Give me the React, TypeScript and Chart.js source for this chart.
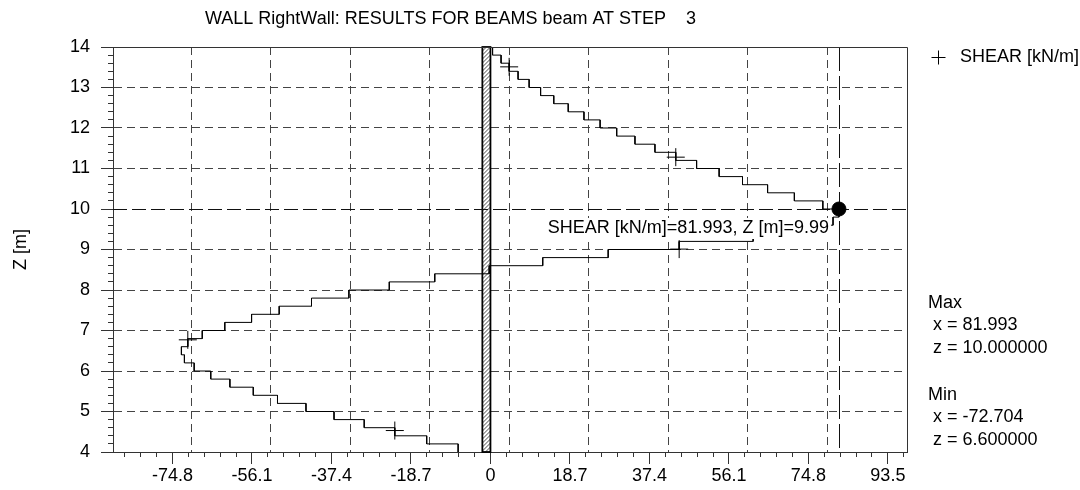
import React, { useEffect, useRef } from 'react';
import { Chart, registerables } from 'chart.js';

Chart.register(...registerables);

const FONT = '"Liberation Sans", Arial, Helvetica, sans-serif';
const FONT_SIZE = 18;

const CHART_TITLE = 'WALL RightWall: RESULTS FOR BEAMS beam AT STEP    3';
const SERIES_NAME = 'SHEAR [kN/m]';
const Y_AXIS_TITLE = 'Z [m]';
const POINT_LABEL = 'SHEAR [kN/m]=81.993, Z [m]=9.99';
const MAX_LINES = ['Max', ' x = 81.993', ' z = 10.000000'];
const MIN_LINES = ['Min', ' x = -72.704', ' z = 6.600000'];

// element boundaries (m) and constant shear per element (kN/m)
const Z_BOUNDS = [14.0, 13.8, 13.6, 13.4, 13.2, 13.0, 12.8, 12.6, 12.4, 12.2, 12.0, 11.8, 11.6, 11.4, 11.2, 11.0, 10.8, 10.6, 10.4, 10.2, 10.0, 9.8, 9.6, 9.4, 9.2, 9.0, 8.8, 8.6, 8.4, 8.2, 8.0, 7.8, 7.6, 7.4, 7.2, 7.0, 6.8, 6.6, 6.4, 6.2, 6.0, 5.8, 5.6, 5.4, 5.2, 5.0, 4.8, 4.6, 4.4, 4.2, 4.0];
const SHEAR = [0.5, 2.5, 4.4, 6.5, 9.1, 11.8, 14.9, 18.3, 22.0, 25.8, 29.7, 34.0, 38.7, 43.6, 48.5, 53.8, 59.3, 65.2, 71.5, 78.2, 81.993, 80.6, 72.0, 61.8, 44.4, 27.7, 12.3, -0.3, -13.1, -23.8, -33.3, -42.1, -49.7, -56.2, -62.5, -67.8, -71.2, -72.704, -72.0, -69.7, -65.8, -61.3, -55.8, -50.1, -43.4, -36.8, -29.7, -22.5, -15.0, -7.6];

// "+" markers along the curve
const MARKER_X = [4.4, 43.6, 44.4, -71.2, -22.5];
const MARKER_Z = [13.51, 11.28, 9.01, 6.77, 4.53];

const MAX_X = 81.993;
const MAX_Z = 10.0;

const WALL_X = [-1.9, 0];

const X_MIN = -88.8;
const X_MAX = 98.0;
const Y_MIN = 4;
const Y_MAX = 14;

const X_TICK_VALUES = [-74.8, -56.1, -37.4, -18.7, 0, 18.7, 37.4, 56.1, 74.8, 93.5];
const X_TICK_LABELS = ['-74.8', '-56.1', '-37.4', '-18.7', '0', '18.7', '37.4', '56.1', '74.8', '93.5'];
const X_GRID_VALUES = [-70.4, -51.7, -33.0, -14.3, 4.4, 23.1, 41.8, 60.5, 79.2];
const Y_TICK_VALUES = [4, 5, 6, 7, 8, 9, 10, 11, 12, 13, 14];
const X_MINOR_STEP = 3.74;
const Y_MINOR_STEP = 0.2;

function buildMinor(start: number, end: number, step: number, from: number) {
  const out: number[] = [];
  let v = from;
  while (v - step >= start) v -= step;
  for (; v <= end + 1e-9; v += step) out.push(+v.toFixed(4));
  return out;
}

const X_MINOR = buildMinor(X_MIN, X_MAX, X_MINOR_STEP, X_TICK_VALUES[0]);
const Y_MINOR = buildMinor(Y_MIN, Y_MAX, Y_MINOR_STEP, Y_MIN);

const shearPoints: { x: number; y: number }[] = [];
SHEAR.forEach((v, i) => {
  shearPoints.push({ x: v, y: Z_BOUNDS[i] });
  shearPoints.push({ x: v, y: Z_BOUNDS[i + 1] });
});
const markerPoints = MARKER_X.map((x, i) => ({ x, y: MARKER_Z[i] }));

const decorPlugin = {
  id: 'decor',
  beforeDatasetsDraw(chart: any) {
    const { ctx, chartArea: ca, scales } = chart;
    const xs = scales.x;
    const ys = scales.y;
    // hatched wall
    const wl = xs.getPixelForValue(WALL_X[0]);
    const wr = xs.getPixelForValue(WALL_X[1]);
    ctx.save();
    ctx.fillStyle = '#fff';
    ctx.fillRect(wl, ca.top, wr - wl, ca.bottom - ca.top);
    ctx.beginPath();
    ctx.rect(wl, ca.top, wr - wl, ca.bottom - ca.top);
    ctx.clip();
    ctx.beginPath();
    ctx.strokeStyle = '#222';
    ctx.lineWidth = 0.8;
    const w = wr - wl;
    for (let y = ca.top - 20; y < ca.bottom + 20; y += 4) {
      ctx.moveTo(wl, y + w);
      ctx.lineTo(wr, y);
    }
    ctx.stroke();
    ctx.restore();
    ctx.save();
    ctx.strokeStyle = '#000';
    ctx.lineWidth = 1.8;
    ctx.strokeRect(wl, ca.top, wr - wl, ca.bottom - ca.top);
    ctx.restore();

    // max crosshair
    const mx = Math.round(xs.getPixelForValue(MAX_X)) + 0.5;
    const my = Math.round(ys.getPixelForValue(MAX_Z)) + 0.5;
    ctx.save();
    ctx.strokeStyle = '#111';
    ctx.lineWidth = 1;
    ctx.setLineDash([24, 5]);
    ctx.beginPath();
    ctx.moveTo(mx, ca.top);
    ctx.lineTo(mx, ca.bottom);
    ctx.stroke();
    ctx.setLineDash([14, 5]);
    ctx.beginPath();
    ctx.moveTo(ca.left, my);
    ctx.lineTo(ca.right, my);
    ctx.stroke();
    ctx.restore();
  },
  afterDatasetsDraw(chart: any) {
    const { ctx, chartArea: ca, scales } = chart;
    const xs = scales.x;
    const ys = scales.y;
    ctx.save();
    // plot frame (top & right)
    ctx.strokeStyle = '#333';
    ctx.lineWidth = 1;
    ctx.beginPath();
    ctx.moveTo(Math.round(ca.left) + 0.5, Math.round(ca.top) + 0.5);
    ctx.lineTo(Math.round(ca.right) + 0.5, Math.round(ca.top) + 0.5);
    ctx.lineTo(Math.round(ca.right) + 0.5, Math.round(ca.bottom) + 0.5);
    ctx.stroke();

    // point label with white background
    const mx = xs.getPixelForValue(MAX_X);
    const my = ys.getPixelForValue(MAX_Z);
    ctx.font = `${FONT_SIZE}px ${FONT}`;
    ctx.textBaseline = 'middle';
    ctx.textAlign = 'right';
    const tw = ctx.measureText(POINT_LABEL).width;
    const tr = mx - 10;
    const ty = my + 19;
    ctx.fillStyle = '#fff';
    ctx.fillRect(tr - tw - 2, ty - 10, tw + 4, 21);
    ctx.fillStyle = '#000';
    ctx.fillText(POINT_LABEL, tr, ty);

    // legend
    const lx = ca.right + 31.5;
    const ly = ca.top + 10.5;
    ctx.strokeStyle = '#000';
    ctx.lineWidth = 1;
    ctx.beginPath();
    ctx.moveTo(lx - 7, ly);
    ctx.lineTo(lx + 7, ly);
    ctx.moveTo(lx, ly - 7);
    ctx.lineTo(lx, ly + 7);
    ctx.stroke();
    ctx.textAlign = 'left';
    ctx.fillText(SERIES_NAME, ca.right + 53, ly);

    // max / min annotations
    MAX_LINES.forEach((t, i) => ctx.fillText(t, ca.right + 21, 303 + i * 22.5));
    MIN_LINES.forEach((t, i) => ctx.fillText(t, ca.right + 21, 395 + i * 22.5));

    // title
    ctx.fillText(CHART_TITLE, 205, 19);

    // y axis title
    ctx.save();
    ctx.translate(21, (ca.top + ca.bottom) / 2);
    ctx.rotate(-Math.PI / 2);
    ctx.textAlign = 'center';
    ctx.fillText(Y_AXIS_TITLE, 0, 0);
    ctx.restore();
    ctx.restore();
  },
};

export default function App() {
  const ref = useRef<HTMLCanvasElement>(null);
  useEffect(() => {
    document.body.style.margin = '0';
    const tickFont = { family: FONT, size: FONT_SIZE };
    const chart = new Chart(ref.current as HTMLCanvasElement, {
      type: 'scatter',
      data: {
        datasets: [
          {
            label: SERIES_NAME,
            data: shearPoints,
            showLine: true,
            borderColor: '#000',
            borderWidth: 1,
            pointRadius: 0,
            fill: false,
            tension: 0,
          },
          {
            label: SERIES_NAME + ' markers',
            data: markerPoints,
            showLine: false,
            pointStyle: 'cross',
            pointRadius: 9,
            borderColor: '#000',
            borderWidth: 1,
          },
          {
            label: 'max',
            data: [{ x: MAX_X, y: MAX_Z }],
            showLine: false,
            pointStyle: 'circle',
            pointRadius: 7,
            backgroundColor: '#000',
            borderColor: '#000',
          },
        ],
      } as any,
      options: {
        responsive: false,
        devicePixelRatio: 1,
        animation: false,
        events: [],
        layout: { padding: { left: 0, top: 47, right: 173, bottom: 0 } },
        plugins: {
          legend: { display: false },
          title: { display: false },
          tooltip: { enabled: false },
        },
        scales: {
          y: {
            type: 'linear',
            position: 'left',
            weight: 10,
            min: Y_MIN,
            max: Y_MAX,
            afterBuildTicks: (s: any) => {
              s.ticks = Y_TICK_VALUES.map((v) => ({ value: v }));
            },
            afterFit: (s: any) => {
              s.width = 113;
            },
            ticks: { font: tickFont, color: '#000', padding: 11, callback: (v: any) => String(v) },
            grid: {
              drawOnChartArea: true,
              drawTicks: true,
              tickLength: 12,
              color: (c: any) => (c.tick && c.tick.value === MAX_Z ? 'rgba(0,0,0,0)' : '#444'),
              tickColor: '#333',
              lineWidth: 1,
            },
            border: { display: true, color: '#333', width: 1, dash: [8, 5] },
          },
          yMinor: {
            type: 'linear',
            position: 'left',
            weight: 0,
            min: Y_MIN,
            max: Y_MAX,
            afterBuildTicks: (s: any) => {
              s.ticks = Y_MINOR.map((v) => ({ value: v }));
            },
            afterFit: (s: any) => {
              s.width = 0;
            },
            ticks: { display: false },
            grid: { drawOnChartArea: false, drawTicks: true, tickLength: 5, tickColor: '#333' },
            border: { display: false },
          },
          x: {
            type: 'linear',
            position: 'bottom',
            weight: 10,
            min: X_MIN,
            max: X_MAX,
            afterBuildTicks: (s: any) => {
              s.ticks = X_TICK_VALUES.map((v) => ({ value: v }));
            },
            afterFit: (s: any) => {
              s.height = 38;
            },
            ticks: {
              font: tickFont,
              color: '#000',
              padding: 1,
              maxRotation: 0,
              autoSkip: false,
              callback: (_v: any, i: number) => X_TICK_LABELS[i],
            },
            grid: { drawOnChartArea: false, drawTicks: true, tickLength: 12, tickColor: '#333' },
            border: { display: true, color: '#333', width: 1 },
          },
          xMinor: {
            type: 'linear',
            position: 'bottom',
            weight: 0,
            min: X_MIN,
            max: X_MAX,
            afterBuildTicks: (s: any) => {
              s.ticks = X_MINOR.map((v) => ({ value: v }));
            },
            afterFit: (s: any) => {
              s.height = 0;
            },
            ticks: { display: false },
            grid: { drawOnChartArea: false, drawTicks: true, tickLength: 5, tickColor: '#333' },
            border: { display: false },
          },
          xGrid: {
            type: 'linear',
            position: 'bottom',
            weight: 1,
            min: X_MIN,
            max: X_MAX,
            afterBuildTicks: (s: any) => {
              s.ticks = X_GRID_VALUES.map((v) => ({ value: v }));
            },
            afterFit: (s: any) => {
              s.height = 0;
            },
            ticks: { display: false },
            grid: { drawOnChartArea: true, drawTicks: false, tickLength: 0, color: '#444', lineWidth: 1 },
            border: { display: false, dash: [8, 5] },
          },
        },
      } as any,
      plugins: [decorPlugin],
    });
    return () => chart.destroy();
  }, []);
  return (
    <div style={{ position: 'absolute', left: 0, top: 0, width: 1080, height: 490, background: '#fff' }}>
      <canvas ref={ref} width={1080} height={490} style={{ width: 1080, height: 490, display: 'block' }} />
    </div>
  );
}
